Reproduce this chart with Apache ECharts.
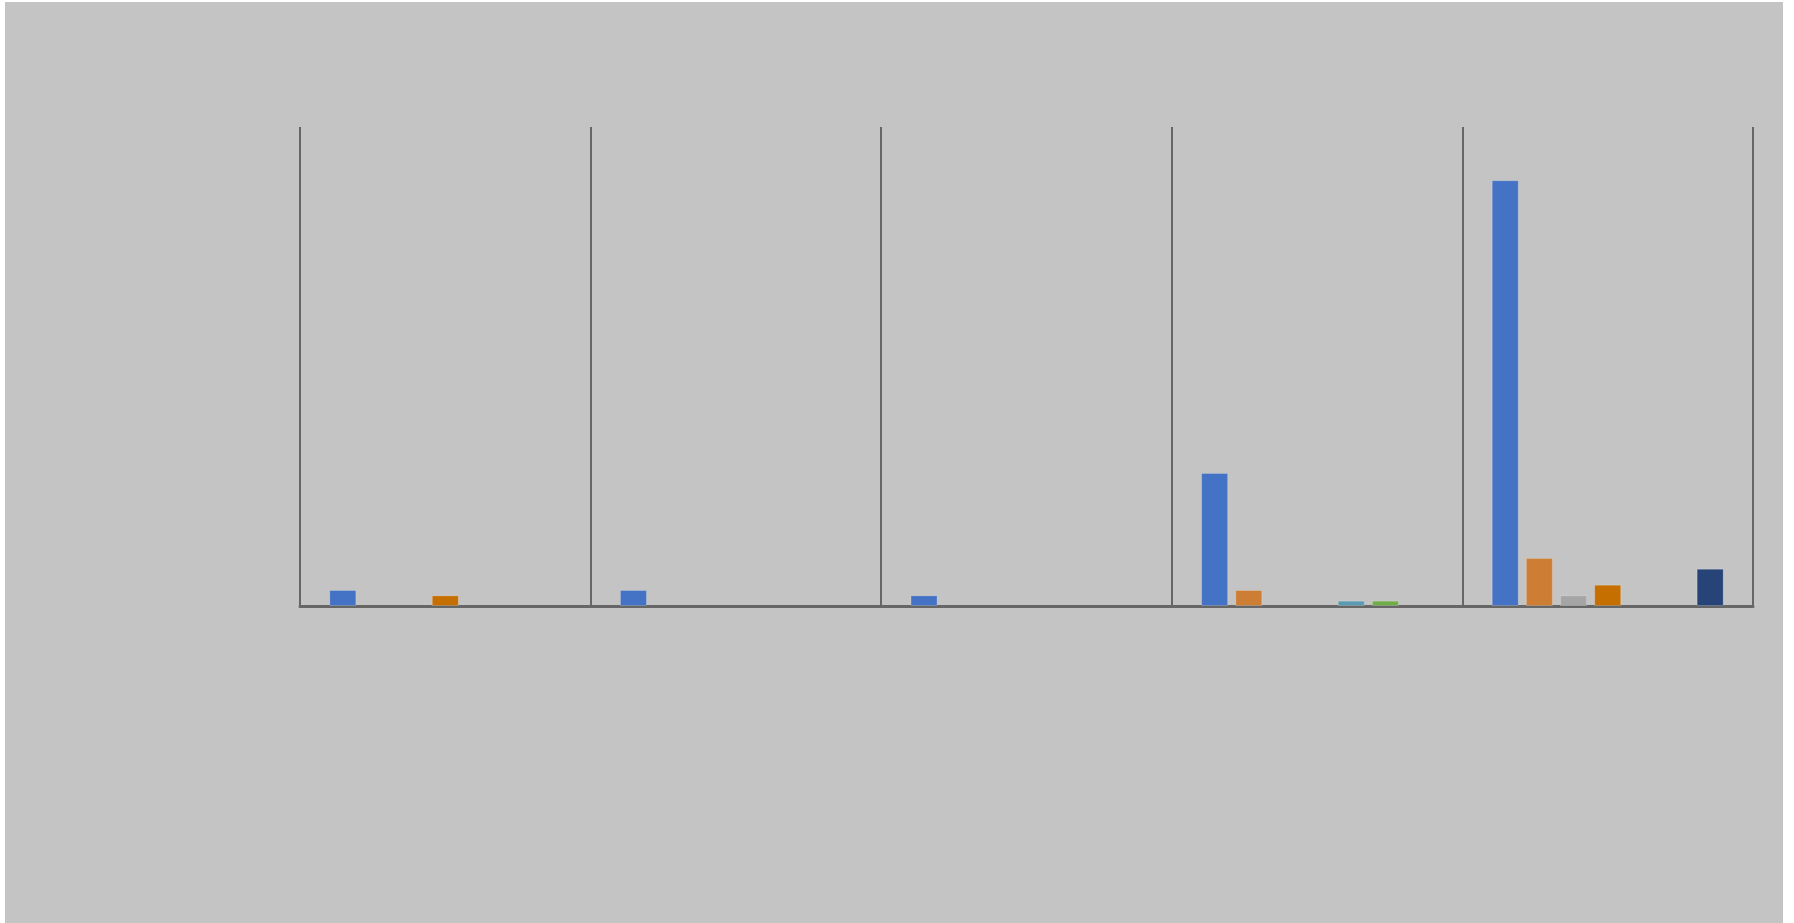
<!DOCTYPE html>
<html>
<head>
<meta charset="utf-8">
<script src="https://cdn.jsdelivr.net/npm/echarts@6/dist/echarts.min.js"></script>
<style>
  html, body { margin: 0; padding: 0; background: #ffffff; width: 1794px; height: 923px; overflow: hidden; }
  #chart { position: absolute; left: 5px; top: 2px; width: 1778px; height: 921px; background: #c4c4c4; }
</style>
</head>
<body>
<div id="chart"></div>
<script>
const categories = ['1', '2', '3', '4', '5'];
const series1 = [3, 3, 2, 25, 80];
const series2 = [null, null, null, 3, 9];
const series3 = [null, null, null, null, 2];
const series4 = [2, null, null, null, 4];
const series5 = [null, null, null, 1, null];
const series6 = [null, null, null, 1, null];
const series7 = [null, null, null, null, 7];
const seriesNames = ['S1', 'S2', 'S3', 'S4', 'S5', 'S6', 'S7'];
const seriesColors = ['#4472C4', '#CD7E34', '#A5A5A5', '#C46F00', '#5A9BB2', '#70AD47', '#264478'];
const seriesData = [series1, series2, series3, series4, series5, series6, series7];

const chart = echarts.init(document.getElementById('chart'), null, { renderer: 'canvas' });
chart.setOption({
  backgroundColor: 'transparent',
  animation: false,
  grid: { left: 295, right: 30, top: 125, bottom: 317, containLabel: false },
  xAxis: {
    type: 'category',
    data: categories,
    boundaryGap: true,
    axisLine: { show: true, lineStyle: { color: '#666666', width: 3 } },
    axisTick: { show: false },
    axisLabel: { show: false },
    splitLine: { show: true, interval: 0, lineStyle: { color: '#666666', width: 2 } }
  },
  yAxis: {
    type: 'value',
    min: 0,
    max: 90,
    axisLine: { show: false },
    axisTick: { show: false },
    axisLabel: { show: false },
    splitLine: { show: false }
  },
  series: seriesData.map((d, i) => ({
    name: seriesNames[i],
    type: 'bar',
    data: d,
    barWidth: 27,
    barGap: '26.5%',
    itemStyle: { color: seriesColors[i], borderColor: 'rgba(255,255,255,0.2)', borderWidth: 1 }
  }))
});
</script>
</body>
</html>
